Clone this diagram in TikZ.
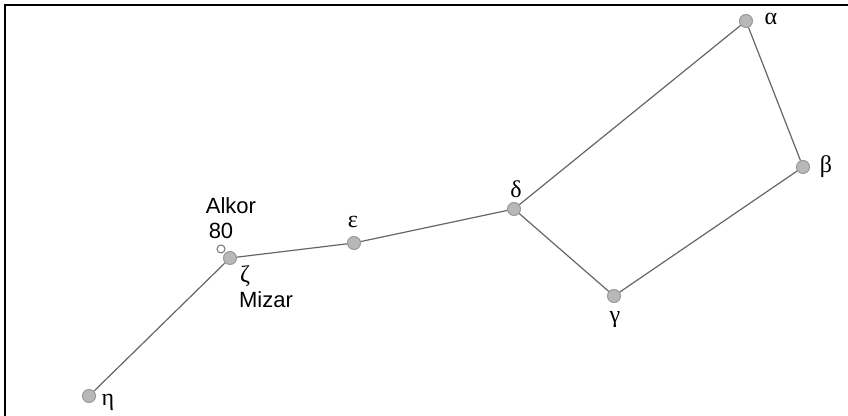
\documentclass[tikz,border=0pt]{standalone}
\usepackage{fontspec}
\setmainfont{Liberation Sans}
\newfontfamily\grk{Liberation Serif}
\begin{document}
\begin{tikzpicture}[x=0.5pt,y=-0.5pt,
  star/.style={circle,draw=black!40,fill=black!28,line width=0.5pt,minimum size=6.5pt,inner sep=0pt},
  smallstar/.style={circle,draw=black!55,fill=white,line width=0.5pt,minimum size=4pt,inner sep=0pt},
  link/.style={draw=black!60,line width=0.6pt},
  lbl/.style={inner sep=0pt,font=\fontsize{11}{13}\selectfont},
  greek/.style={inner sep=0pt,font=\grk\fontsize{12}{14}\selectfont}]
\useasboundingbox (0,0) rectangle (848,416);
\fill[white] (0,0) rectangle (848,416);
\draw[line width=1.3pt] (5,416) -- (5,5) -- (848,5);
% stars
\node[star] (alpha) at (746,21) {};
\node[star] (beta) at (803,167) {};
\node[star] (gamma) at (614,296) {};
\node[star] (delta) at (514,209) {};
\node[star] (eps) at (354,243) {};
\node[star] (zeta) at (230,258) {};
\node[star] (eta) at (89,396) {};
\node[smallstar] (alkor) at (221,249) {};
% lines
\draw[link] (eta) -- (zeta);
\draw[link] (zeta) -- (eps);
\draw[link] (eps) -- (delta);
\draw[link] (delta) -- (alpha);
\draw[link] (alpha) -- (beta);
\draw[link] (beta) -- (gamma);
\draw[link] (gamma) -- (delta);
% labels
\node[greek] (la) at (771,19) {α};
\node[greek] (lb) at (826,167) {β};
\node[greek] (lg) at (615,320) {γ};
\node[greek] (ld) at (516,189) {δ};
\node[greek] (le) at (353,222) {ε};
\node[greek] (lz) at (245,276) {ζ};
\node[greek] (lh) at (108,402) {η};
\node[lbl] (alkorname) at (231,206) {Alkor};
\node[lbl] (alkornum) at (221,231) {80};
\node[lbl] (mizar) at (266,300) {Mizar};
\end{tikzpicture}
\end{document}
